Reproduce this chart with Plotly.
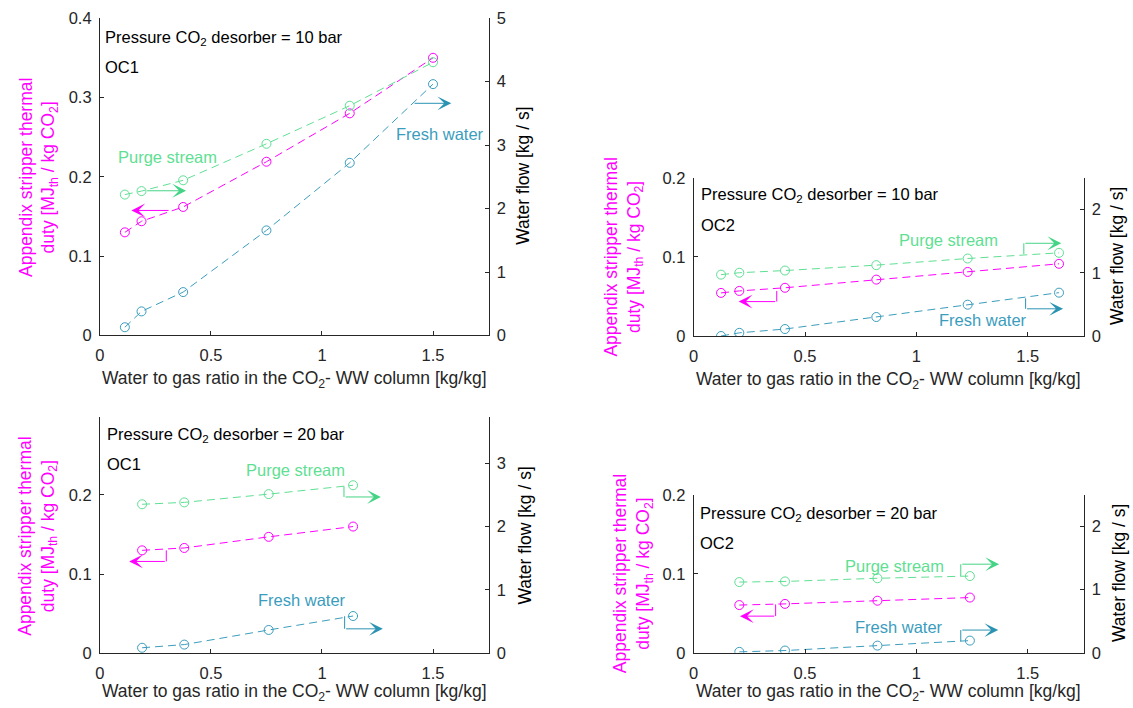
import plotly.graph_objects as go

# ---------------- data ----------------
# Panel A: Pressure CO2 desorber = 10 bar, OC1
x_10_oc1 = [0.1125, 0.1875, 0.375, 0.75, 1.125, 1.5]
duty_10_oc1 = [0.130, 0.144, 0.162, 0.219, 0.280, 0.350]
purge_10_oc1 = [2.22, 2.275, 2.445, 3.02, 3.62, 4.305]
fresh_10_oc1 = [0.13, 0.38, 0.684, 1.656, 2.72, 3.96]

# Panel B: Pressure CO2 desorber = 10 bar, OC2
x_10_oc2 = [0.123, 0.205, 0.41, 0.82, 1.23, 1.64]
duty_10_oc2 = [0.0545, 0.057, 0.061, 0.0713, 0.081, 0.0913]
purge_10_oc2 = [0.97, 1.0, 1.035, 1.12, 1.225, 1.315]
fresh_10_oc2 = [0.0, 0.05, 0.11, 0.30, 0.495, 0.685]

# Panel C: Pressure CO2 desorber = 20 bar, OC1
x_20_oc1 = [0.19, 0.38, 0.76, 1.14]
duty_20_oc1 = [0.130, 0.133, 0.147, 0.160]
purge_20_oc1 = [2.35, 2.38, 2.51, 2.65]
fresh_20_oc1 = [0.09, 0.14, 0.37, 0.59]

# Panel D: Pressure CO2 desorber = 20 bar, OC2
x_20_oc2 = [0.205, 0.41, 0.825, 1.24]
duty_20_oc2 = [0.0605, 0.062, 0.066, 0.070]
purge_20_oc2 = [1.12, 1.13, 1.18, 1.215]
fresh_20_oc2 = [0.016, 0.037, 0.115, 0.194]

x_ticks = [0, 0.5, 1, 1.5]
x_ticktext = ["0", "0.5", "1", "1.5"]

# ---------------- styling ----------------
W, H = 1133, 708
# vertical correction measured from earlier renders of this page
V_OFFSET, V_SCALE = 9.2, 0.9725
FONT = "Liberation Sans, Arial, Helvetica, sans-serif"
AX = "#262626"
MAGENTA = "#ff00ff"
GREEN = "#5fdf93"
BLUE = "#3b9dbd"
GREEN_ARROW = "#45d485"
BLUE_ARROW = "#2b93b2"
TICK_SIZE = 16.5
TITLE_SIZE = 17.5
TEXT_SIZE = 16.5


def px(x):
    """target pixel x -> paper fraction"""
    return x / W


def py(y):
    """target pixel y -> paper fraction"""
    return 1 - ((y - V_OFFSET) / V_SCALE) / H


panels = [
    dict(
        x=x_10_oc1, duty=duty_10_oc1, purge=purge_10_oc1, fresh=fresh_10_oc1,
        box=(95.3, 485.7, 18.3, 335.0),
        yl=[0, 0.4], yl_ticks=[0, 0.1, 0.2, 0.3, 0.4],
        yr=[0, 5], yr_ticks=[0, 1, 2, 3, 4, 5],
        pressure="10", oc="OC1",
        txt=(0.016, 0.375, 0.338),
        ltitle=(33, 177), rtitle=(520, 176), xtitle=(290.5, 379),
        purge_lbl=(0.305, 2.806), fresh_lbl=(1.53, 3.17),
        m_arrow=[(0.316, 0.1576), (0.142, 0.1576)],
        g_arrow=[(0.206, 2.28), (0.388, 2.28)],
        b_arrow=[(1.41, 3.658), (1.582, 3.658)],
    ),
    dict(
        x=x_10_oc2, duty=duty_10_oc2, purge=purge_10_oc2, fresh=fresh_10_oc2,
        box=(691.7, 1083.3, 177.7, 335.5),
        yl=[0, 0.2], yl_ticks=[0, 0.1, 0.2],
        yr=[0, 2.5], yr_ticks=[0, 1, 2],
        pressure="10", oc="OC2",
        txt=(0.026, 0.178, 0.141),
        ltitle=(621, 257), rtitle=(1117.6, 256), xtitle=(887.5, 380),
        purge_lbl=(1.144, 1.513), fresh_lbl=(1.30, 0.254),
        m_arrow=[(0.373, 0.057), (0.373, 0.0435), (0.202, 0.0435)],
        g_arrow=[(1.482, 1.295), (1.482, 1.466), (1.650, 1.466)],
        b_arrow=[(1.49, 0.596), (1.49, 0.43), (1.658, 0.43)],
    ),
    dict(
        x=x_20_oc1, duty=duty_20_oc1, purge=purge_20_oc1, fresh=fresh_20_oc1,
        box=(95.3, 485.7, 416.0, 652.3),
        yl=[0, 0.2985], yl_ticks=[0, 0.1, 0.2],
        yr=[0, 3.73], yr_ticks=[0, 1, 2, 3],
        pressure="20", oc="OC1",
        txt=(0.022, 0.276, 0.239),
        ltitle=(33, 535), rtitle=(522, 535), xtitle=(290.5, 691),
        purge_lbl=(0.88, 2.884), fresh_lbl=(0.908, 0.839),
        m_arrow=[(0.299, 0.130), (0.299, 0.116), (0.132, 0.116)],
        g_arrow=[(1.099, 2.632), (1.099, 2.465), (1.265, 2.465)],
        b_arrow=[(1.102, 0.587), (1.102, 0.388), (1.274, 0.388)],
    ),
    dict(
        x=x_20_oc2, duty=duty_20_oc2, purge=purge_20_oc2, fresh=fresh_20_oc2,
        box=(691.7, 1083.3, 494.0, 651.7),
        yl=[0, 0.2], yl_ticks=[0, 0.1, 0.2],
        yr=[0, 2.5], yr_ticks=[0, 1, 2],
        pressure="20", oc="OC2",
        txt=(0.018, 0.176, 0.139),
        ltitle=(630, 573), rtitle=(1119.0, 572), xtitle=(887.5, 691),
        purge_lbl=(0.90, 1.377), fresh_lbl=(0.924, 0.408),
        m_arrow=[(0.368, 0.0613), (0.368, 0.0465), (0.208, 0.0465)],
        g_arrow=[(1.199, 1.215), (1.199, 1.403), (1.371, 1.403)],
        b_arrow=[(1.199, 0.183), (1.199, 0.361), (1.367, 0.361)],
    ),
]

fig = go.Figure()
layout = dict(
    width=W, height=H, autosize=False,
    margin=dict(l=0, r=0, t=0, b=0, pad=0),
    paper_bgcolor="white", plot_bgcolor="rgba(0,0,0,0)",
    showlegend=False,
    font=dict(family=FONT, color=AX),
)
annotations = []
shapes = []

line_dash = "8px,5px"


def fmt(v):
    return "%g" % v


for i, p in enumerate(panels):
    k = i + 1
    xa = "x" if k == 1 else "x%d" % k
    yl = "y" if k == 1 else "y%d" % (2 * k - 1)
    yr = "y%d" % (2 * k)
    xa_key = "xaxis" if k == 1 else "xaxis%d" % k
    yl_key = "yaxis" if k == 1 else "yaxis%d" % (2 * k - 1)
    yr_key = "yaxis%d" % (2 * k)

    left, right, top, bottom = p["box"]
    common = dict(showline=True, linecolor=AX, linewidth=1, ticks="inside",
                  ticklen=4, tickcolor=AX, tickwidth=1, showgrid=False,
                  zeroline=False, tickfont=dict(size=TICK_SIZE, color=AX, family=FONT))
    layout[xa_key] = dict(common, domain=[px(left), px(right)], anchor=yl,
                          range=[0, 1.75], tickvals=x_ticks, ticktext=x_ticktext,
                          ticklabelstandoff=5)
    layout[yl_key] = dict(common, domain=[py(bottom), py(top)], anchor=xa,
                          range=p["yl"], tickvals=p["yl_ticks"],
                          ticktext=[fmt(v) for v in p["yl_ticks"]], side="left",
                          ticklabelstandoff=4)
    layout[yr_key] = dict(common, overlaying=yl, anchor=xa, side="right",
                          range=p["yr"], tickvals=p["yr_ticks"],
                          ticktext=[fmt(v) for v in p["yr_ticks"]],
                          ticklabelstandoff=4)

    for ys, ax_ref, col in [(p["duty"], yl, MAGENTA), (p["purge"], yr, GREEN),
                            (p["fresh"], yr, BLUE)]:
        fig.add_trace(go.Scatter(
            x=p["x"], y=ys, xaxis=xa, yaxis=ax_ref, mode="lines+markers",
            line=dict(color=col, width=1, dash=line_dash),
            marker=dict(symbol="circle-open", size=9, color=col,
                        line=dict(width=1, color=col)),
            hoverinfo="skip"))

    tx, ty1, ty2 = p["txt"]
    annotations.append(dict(
        xref=xa, yref=yl, x=tx, y=ty1, xanchor="left", yanchor="middle",
        text="Pressure CO<sub>2</sub> desorber = %s bar" % p["pressure"],
        showarrow=False, font=dict(size=TEXT_SIZE, color="black", family=FONT)))
    annotations.append(dict(
        xref=xa, yref=yl, x=tx, y=ty2, xanchor="left", yanchor="middle",
        text=p["oc"], showarrow=False,
        font=dict(size=TEXT_SIZE, color="black", family=FONT)))
    annotations.append(dict(
        xref=xa, yref=yr, x=p["purge_lbl"][0], y=p["purge_lbl"][1],
        text="Purge stream", showarrow=False,
        font=dict(size=TEXT_SIZE, color=GREEN, family=FONT)))
    annotations.append(dict(
        xref=xa, yref=yr, x=p["fresh_lbl"][0], y=p["fresh_lbl"][1],
        text="Fresh water", showarrow=False,
        font=dict(size=TEXT_SIZE, color=BLUE, family=FONT)))

    for pts, ref, col in [(p["m_arrow"], yl, MAGENTA), (p["g_arrow"], yr, GREEN_ARROW),
                          (p["b_arrow"], yr, BLUE_ARROW)]:
        for (x0, y0), (x1, y1) in zip(pts[:-2], pts[1:-1]):
            shapes.append(dict(type="line", xref=xa, yref=ref, x0=x0, y0=y0,
                               x1=x1, y1=y1, line=dict(color=col, width=1)))
        (ax_, ay_), (hx, hy) = pts[-2], pts[-1]
        annotations.append(dict(
            xref=xa, yref=ref, axref=xa, ayref=ref, x=hx, y=hy, ax=ax_, ay=ay_,
            text="", showarrow=True, arrowhead=3, arrowsize=2.3, arrowwidth=1,
            arrowcolor=col, standoff=0, startstandoff=0))

    lx, ly = p["ltitle"]
    annotations.append(dict(
        xref="paper", yref="paper", x=px(lx), y=py(ly), xanchor="center",
        yanchor="middle", textangle=-90, showarrow=False,
        text="Appendix stripper thermal<br>duty [MJ<sub>th</sub> / kg CO<sub>2</sub>]",
        font=dict(size=TITLE_SIZE, color=MAGENTA, family=FONT)))
    rx, ry = p["rtitle"]
    annotations.append(dict(
        xref="paper", yref="paper", x=px(rx), y=py(ry), xanchor="center",
        yanchor="middle", textangle=-90, showarrow=False,
        text="Water flow [kg / s]",
        font=dict(size=TITLE_SIZE, color="black", family=FONT)))
    bx, by = p["xtitle"]
    annotations.append(dict(
        xref="paper", yref="paper", x=px(bx), y=py(by), xanchor="center",
        yanchor="middle", showarrow=False,
        text="Water to gas ratio in the CO<sub>2</sub>- WW column [kg/kg]",
        font=dict(size=TITLE_SIZE, color=AX, family=FONT)))

layout["annotations"] = annotations
layout["shapes"] = shapes
fig.update_layout(**layout)

fig.write_html(
    "out.html",
    config={"displayModeBar": False},
    post_script="document.body.style.margin='0';",
)
